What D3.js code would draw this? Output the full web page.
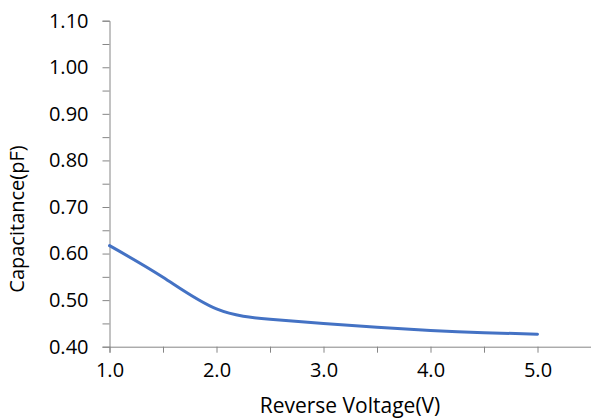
<!DOCTYPE html>
<meta charset="utf-8">
<style>
  body { margin: 0; background: #fff; }
  .axis path, .axis line { stroke: #868686; }
</style>
<script src="https://d3js.org/d3.v7.min.js"></script>
<body>
<div id="chart"></div>
<script>
  // 数据：反向电压 / 电容
  let voltage = [1.0, 1.5, 2.0, 2.5, 3.0, 3.5, 4.0, 4.5, 5.0];
  let capacitance = [0.617, 0.549, 0.481, 0.459, 0.450, 0.442, 0.435, 0.430, 0.427];
  let xTicks = [1.0, 1.5, 2.0, 2.5, 3.0, 3.5, 4.0, 4.5, 5.0, 5.5];
  let yTicks = [0.40, 0.45, 0.50, 0.55, 0.60, 0.65, 0.70, 0.75, 0.80, 0.85, 0.90, 0.95, 1.00, 1.05, 1.10];

  let width = 591, height = 419;
  let margin = {top: 20.7, right: 0, bottom: 72.3, left: 109.5};
  let font = "'Open Sans', 'Liberation Sans', sans-serif";

  let svg = d3.select("#chart")
    .append("svg")
    .attr("width", width)
    .attr("height", height);

  let x = d3.scaleLinear()
    .domain([1.0, 5.5])
    .range([margin.left, margin.left + 4.5 * 107]);

  let y = d3.scaleLinear()
    .domain([0.40, 1.10])
    .range([height - margin.bottom, margin.top]);

  // x 轴：每 0.5 一个刻度，整数才标注
  svg.append("g")
    .attr("class", "axis")
    .attr("transform", `translate(0,${y(0.40)})`)
    .call(d3.axisBottom(x).tickValues(xTicks).tickSizeOuter(0).tickSize(6).tickPadding(10)
      .tickFormat(d => Math.abs(d % 1) < 1e-9 ? d3.format(".1f")(d) : ""))
    .attr("font-size", 20)
    .attr("font-family", font)
    .selectAll("text").attr("fill", "#000");

  // y 轴：每 0.05 一个刻度，每 0.1 标注
  svg.append("g")
    .attr("class", "axis")
    .attr("transform", `translate(${x(1.0)},0)`)
    .call(d3.axisLeft(y).tickValues(yTicks).tickSizeOuter(0).tickSize(7).tickPadding(14)
      .tickFormat((d, i) => i % 2 === 0 ? d3.format(".2f")(d) : ""))
    .attr("font-size", 20)
    .attr("font-family", font)
    .selectAll("text").attr("fill", "#000");

  // 曲线（平滑）
  let line = d3.line()
    .x((d, i) => x(voltage[i]))
    .y(d => y(d))
    .curve(d3.curveNatural);

  svg.append("path")
    .datum(capacitance)
    .attr("fill", "none")
    .attr("stroke", "#4472C4")
    .attr("stroke-width", 3)
    .attr("stroke-linecap", "round")
    .attr("d", line);

  // 坐标轴标题
  svg.append("text")
    .attr("x", 350)
    .attr("y", 413)
    .attr("text-anchor", "middle")
    .attr("font-family", font)
    .attr("font-size", 21)
    .text("Reverse Voltage(V)");

  svg.append("text")
    .attr("transform", "translate(24,219) rotate(-90)")
    .attr("text-anchor", "middle")
    .attr("font-family", font)
    .attr("font-size", 20)
    .text("Capacitance(pF)");
</script>
</body>
